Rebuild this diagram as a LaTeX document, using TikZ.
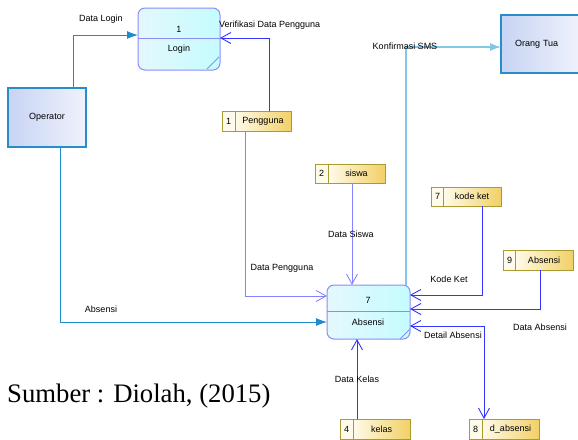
\documentclass[tikz,border=0pt]{standalone}
\usepackage{fontspec}
\setmainfont{Liberation Sans}
\newfontfamily\capserif{Liberation Serif}
\usetikzlibrary{arrows.meta}
\definecolor{procborder}{HTML}{8C8CF8}
\definecolor{procA}{HTML}{E4F8FC}
\definecolor{procB}{HTML}{C4FCFF}
\definecolor{entborder}{HTML}{2A8CC8}
\definecolor{entA}{HTML}{C8D4F4}
\definecolor{entB}{HTML}{F0F2FC}
\definecolor{stborder}{HTML}{A89C30}
\definecolor{stA}{HTML}{FFFBEA}
\definecolor{stB}{HTML}{F2D066}
\definecolor{entflow}{HTML}{1E8CCC}
\definecolor{smsflow}{HTML}{84C6E6}
\definecolor{stflow}{HTML}{3434FF}
\definecolor{stflowlight}{HTML}{8484FF}
\begin{document}
\begin{tikzpicture}[x=1pt,y=-1pt,
  font=\fontsize{9}{10}\selectfont,
  proc/.style={draw=procborder, line width=1pt, rounded corners=7pt, left color=procA, right color=procB, inner sep=0pt, outer sep=0pt},
  procline/.style={draw=procborder, line width=1pt},
  ent/.style={draw=entborder, line width=1.1pt, left color=entA, right color=entB, inner sep=0pt, outer sep=0pt, anchor=north west},
  snum/.style={draw=stborder, line width=1pt, fill=stA, inner sep=0pt, outer sep=0pt, anchor=north west, minimum width=13pt},
  sname/.style={draw=stborder, line width=1pt, left color=stA, right color=stB, inner sep=0pt, outer sep=0pt, anchor=north west},
  fflow/.style={draw=entflow, line width=0.9pt, -{Latex[length=11pt,width=8pt]}},
  oflow/.style={draw=stflow, line width=0.9pt, -{Straight Barb[length=10pt,width=11pt,line width=0.9pt]}},
  lbl/.style={inner sep=0pt}
]
\useasboundingbox (0,0) rectangle (578,439);

% processes
\node[proc, minimum width=82pt, minimum height=62pt] (login) at (179,39) {};
\draw[procline] (login.west |- 0,38) -- (login.east |- 0,38);
\draw[procline] (207,69) -- (219,57);
\node[lbl] (loginnum) at (179,29) {1};
\node[lbl] (logintxt) at (179,49) {Login};

\node[proc, minimum width=83pt, minimum height=54pt] (abs) at (368.5,312) {};
\draw[procline] (abs.west |- 0,311) -- (abs.east |- 0,311);
\draw[procline] (400,339) -- (410,329);
\node[lbl] (absnum) at (368,300) {7};
\node[lbl] (abstxt) at (368,322) {Absensi};

% entities
\node[ent, minimum width=78pt, minimum height=59pt] (op) at (8,88) {Operator};
\node[ent, minimum width=80pt, minimum height=58pt, text width=76pt, align=left] (ortu) at (501,15) {\hspace*{12pt}Orang Tua};

% stores
\node[snum, minimum height=20pt] (s1n) at (222,111) {1};
\node[sname, minimum width=56pt, minimum height=20pt] (s1) at (235,111) {Pengguna};
\node[snum, minimum height=19pt] (s2n) at (315,164) {2};
\node[sname, minimum width=57pt, minimum height=19pt] (s2) at (328,164) {siswa};
\node[snum, minimum height=19pt] (s7n) at (431,187) {7};
\node[sname, minimum width=58pt, minimum height=19pt] (s7) at (443,187) {kode ket};
\node[snum, minimum height=20pt] (s9n) at (503,250) {9};
\node[sname, minimum width=58pt, minimum height=20pt] (s9) at (515,250) {Absensi};
\node[snum, minimum height=20pt] (s4n) at (340,419) {4};
\node[sname, minimum width=57pt, minimum height=20pt] (s4) at (353,419) {kelas};
\node[snum, minimum height=20pt] (s8n) at (469,419) {8};
\node[sname, minimum width=57pt, minimum height=20pt] (s8) at (482,419) {d\_absensi};

% bend coordinates
\coordinate (k1) at (73,35);
\coordinate (k2) at (269,38);
\coordinate (k3) at (245,296);
\coordinate (k4) at (352,0);
\coordinate (k5) at (406,47);
\coordinate (k6) at (482,295);
\coordinate (k7) at (540,309);
\coordinate (k8) at (484,326);
\coordinate (k9) at (357,0);
\coordinate (k10) at (60,322);

% flows
\draw[fflow] (op.north -| k1) |- (login.west |- k1);
\draw[oflow] (s1.north -| k2) |- (login.east |- k2);
\draw[oflow, draw=stflowlight] (s1.south -| k3) |- (abs.west |- k3);
\draw[oflow, draw=stflowlight] (s2.south -| k4) -- (abs.north -| k4);
\draw[fflow, draw=smsflow, line width=1.2pt] (abs.north -| k5) |- (ortu.west |- k5);
\draw[oflow] (s7.south -| k6) |- (abs.east |- k6);
\draw[oflow] (s9.south -| k7) |- (abs.east |- k7);
\draw[oflow, {Straight Barb[length=10pt,width=11pt,line width=0.9pt]}-{Straight Barb[length=10pt,width=11pt,line width=0.9pt]}] (abs.east |- k8) -| (s8.north -| k8);
\draw[oflow] (s4.north -| k9) -- (abs.south -| k9);
\draw[fflow] (op.south -| k10) |- (abs.west |- k10);

% labels
\node[lbl] (l1) at (101,19) {Data Login};
\node[lbl, anchor=west] (l2) at (219,25) {Verifikasi Data Pengguna};
\node[lbl] (l3) at (282,268) {Data Pengguna};
\node[lbl] (l4) at (351,234) {Data Siswa};
\node[lbl] (l5) at (405,46) {Konfirmasi SMS};
\node[lbl] (l6) at (449,279) {Kode Ket};
\node[lbl] (l7) at (540,327) {Data Absensi};
\node[lbl] (l8) at (453,335) {Detail Absensi};
\node[lbl] (l9) at (357,379) {Data Kelas};
\node[lbl] (l10) at (101,309) {Absensi};
\node[lbl, anchor=base west, font=\capserif\fontsize{26.7}{30}\selectfont] (src) at (7,402) {Sumber : Diolah, (2015)};
\end{tikzpicture}
\end{document}
